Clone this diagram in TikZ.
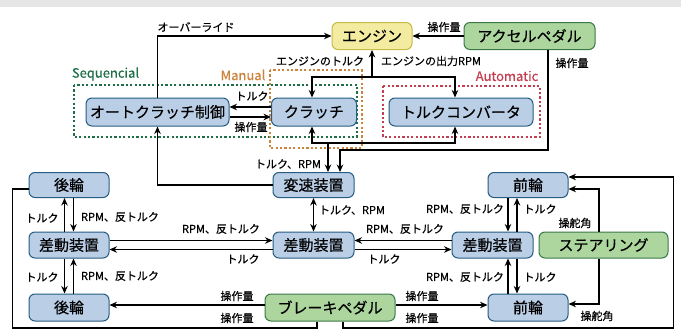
\documentclass[tikz,border=0pt]{standalone}
\usepackage{fontspec}
\setmainfont{Noto Sans CJK JP}[FakeBold=0.5]
\usetikzlibrary{arrows.meta}
\definecolor{bfill}{RGB}{186,206,230}
\definecolor{bdraw}{RGB}{38,92,130}
\definecolor{gfill}{RGB}{172,214,158}
\definecolor{gdraw}{RGB}{58,120,72}
\definecolor{yfill}{RGB}{243,236,160}
\definecolor{ydraw}{RGB}{200,186,70}
\definecolor{seqc}{RGB}{30,110,72}
\definecolor{manc}{RGB}{204,132,60}
\definecolor{autc}{RGB}{196,62,82}
\definecolor{band}{RGB}{230,230,230}
\tikzset{
  box/.style={draw, line width=1pt, rounded corners=6pt, inner sep=0pt, font=\fontsize{15}{18}\selectfont},
  bluebox/.style={box, fill=bfill, draw=bdraw},
  greenbox/.style={box, fill=gfill, draw=gdraw},
  yellowbox/.style={box, fill=yfill, draw=ydraw},
  lbl/.style={inner sep=0pt, font=\fontsize{11}{13}\selectfont},
  grp/.style={line width=2.2pt, dash pattern=on 2.2pt off 2.2pt},
  grplbl/.style={inner sep=0pt, font=\fontsize{13}{15}\selectfont},
  arr/.style={line width=1.4pt, -{Stealth[length=7.5pt,width=6.5pt]}},
  dblarr/.style={line width=1.4pt, {Stealth[length=7.5pt,width=6.5pt]}-{Stealth[length=7.5pt,width=6.5pt]}},
  plain/.style={line width=1.4pt}
}
\begin{document}
\begin{tikzpicture}[x=1pt,y=-1pt]
\useasboundingbox (0,0) rectangle (681,332);
\fill[band] (0,0) rectangle (681,7);
% group boxes
\draw[grp, draw=seqc] (74,85) rectangle (357,137);
\draw[grp, draw=manc] (270,70) rectangle (362,148);
\draw[grp, draw=autc] (383,86) rectangle (540,137);
\node[grplbl, text=seqc] (seqlbl) at (105.5,74) {Sequencial};
\node[grplbl, text=manc] (manlbl) at (243,75) {Manual};
\node[grplbl, text=autc] (autlbl) at (507,76) {Automatic};
% nodes
\node[yellowbox, minimum width=80pt, minimum height=27pt] (eng) at (372,36) {エンジン};
\node[greenbox, minimum width=131pt, minimum height=27pt] (acc) at (529.5,36) {アクセルペダル};
\node[bluebox, minimum width=143pt, minimum height=28pt] (ac) at (157.5,112) {オートクラッチ制御};
\node[bluebox, minimum width=85pt, minimum height=28pt] (cl) at (314,112) {クラッチ};
\node[bluebox, minimum width=144pt, minimum height=28pt] (tc) at (461,112) {トルクコンバータ};
\node[bluebox, minimum width=81pt, minimum height=25pt] (hen) at (313.5,185) {変速装置};
\node[bluebox, minimum width=80pt, minimum height=25pt] (rt) at (69,185) {後輪};
\node[bluebox, minimum width=80pt, minimum height=26pt] (dl) at (69,245) {差動装置};
\node[bluebox, minimum width=80pt, minimum height=27pt] (rb) at (69,307.5) {後輪};
\node[bluebox, minimum width=81pt, minimum height=26pt] (dc) at (313.5,245) {差動装置};
\node[bluebox, minimum width=81pt, minimum height=26pt] (dr) at (492.5,245) {差動装置};
\node[bluebox, minimum width=80pt, minimum height=25pt] (ft) at (528,185) {前輪};
\node[bluebox, minimum width=80pt, minimum height=27pt] (fb) at (528,307.5) {前輪};
\node[greenbox, minimum width=129pt, minimum height=26pt] (st) at (603.5,245) {ステアリング};
\node[greenbox, minimum width=130pt, minimum height=27pt] (br) at (330,307.5) {ブレーキペダル};
% helper coordinates
\coordinate (b0) at (372,77);
\coordinate (b1) at (328,143);
\coordinate (b2) at (548,150);
\coordinate (rc1) at (508,0);
\coordinate (rc2) at (517,0);
\coordinate (sx) at (599,0);
\coordinate (k1) at (317,328);
\coordinate (k3) at (343,328);
% connectors top
\draw[arr] (ac.north) |- (eng.west);
\draw[arr] (acc.west) -- (eng.east);
\draw[arr] (acc.south -| b2) -- (b2) -| ([xshift=26.5pt]hen.north);
\draw[arr] (b0) -- (eng.south);
\draw[arr] (b0) -| ([xshift=-2pt]cl.north);
\draw[arr] (b0) -| ([xshift=-6pt]tc.north);
\draw[arr] (b1) -- (b1 |- hen.north);
\draw[arr] (b1) -| ([xshift=-2pt]cl.south);
\draw[arr] (b1) -| ([xshift=-6pt]tc.south);
\draw[arr] ([yshift=5pt]cl.west) -- ([yshift=5pt]ac.east);
\draw[arr] ([yshift=-5pt]ac.east) -- ([yshift=-5pt]cl.west);
\draw[arr] (hen.west) -| (ac.south);
\draw[dblarr] (hen.south) -- (dc.north);
% differentials
\draw[arr] ([yshift=4.5pt]dl.east) -- ([yshift=4.5pt]dc.west);
\draw[arr] ([yshift=-4.5pt]dc.west) -- ([yshift=-4.5pt]dl.east);
\draw[arr] ([yshift=4.5pt]dr.west) -- ([yshift=4.5pt]dc.east);
\draw[arr] ([yshift=-4.5pt]dc.east) -- ([yshift=-4.5pt]dr.west);
% left column
\draw[arr] ([xshift=-4.5pt]dl.north) -- ([xshift=-4.5pt]rt.south);
\draw[arr] ([xshift=4.5pt]rt.south) -- ([xshift=4.5pt]dl.north);
\draw[arr] ([xshift=-4.5pt]dl.south) -- ([xshift=-4.5pt]rb.north);
\draw[arr] ([xshift=4.5pt]rb.north) -- ([xshift=4.5pt]dl.south);
% right column
\draw[arr] (ft.south -| rc1) -- (dr.north -| rc1);
\draw[arr] (dr.north -| rc2) -- (ft.south -| rc2);
\draw[arr] (fb.north -| rc1) -- (dr.south -| rc1);
\draw[arr] (dr.south -| rc2) -- (fb.north -| rc2);
% steering
\draw[arr] (st.north -| sx) |- ([yshift=-4pt]ft.east);
\draw[arr] (st.south -| sx) |- ([yshift=3.5pt]fb.east);
% brake
\draw[arr] ([yshift=2.5pt]br.west) -- ([yshift=2.5pt]rb.east);
\draw[arr] ([yshift=2.5pt]br.east) -- ([yshift=2.5pt]fb.west);
\draw[plain] (br.south -| k1) -- (k1) -| ([yshift=-4pt,xshift=-16pt]rt.west) -- ([yshift=-4pt]rt.west);
\draw[arr] (br.south -| k3) -- (k3) -| ([yshift=8pt,xshift=105pt]ft.east) -- ([yshift=8pt]ft.east);
% labels
\node[lbl] (l1) at (196,27) {オーバーライド};
\node[lbl] (l2) at (444,27) {操作量};
\node[lbl] (l3) at (572,63) {操作量};
\node[lbl] (l4) at (320,61) {エンジンのトルク};
\node[lbl] (l5) at (431,61) {エンジンの出力RPM};
\node[lbl] (l6) at (252,96) {トルク};
\node[lbl] (l7) at (251,127) {操作量};
\node[lbl] (l8) at (288,164) {トルク、RPM};
\node[lbl] (l9) at (352,210) {トルク、RPM};
\node[lbl] (l10) at (221,229) {RPM、反トルク};
\node[lbl] (l11) at (243,259) {トルク};
\node[lbl] (l12) at (405,229) {RPM、反トルク};
\node[lbl] (l13) at (384,259) {トルク};
\node[lbl] (l14) at (42,218) {トルク};
\node[lbl] (l15) at (120,217) {RPM、反トルク};
\node[lbl] (l16) at (42,277) {トルク};
\node[lbl] (l17) at (120,276) {RPM、反トルク};
\node[lbl] (l18) at (465,209) {RPM、反トルク};
\node[lbl] (l19) at (540,209) {トルク};
\node[lbl] (l20) at (465,277) {RPM、反トルク};
\node[lbl] (l21) at (540,277) {トルク};
\node[lbl] (l22) at (575,223) {操舵角};
\node[lbl] (l23) at (597,316) {操舵角};
\node[lbl] (l24) at (237,296) {操作量};
\node[lbl] (l25) at (237,318) {操作量};
\node[lbl] (l26) at (422,296) {操作量};
\node[lbl] (l27) at (422,318) {操作量};
\end{tikzpicture}
\end{document}
